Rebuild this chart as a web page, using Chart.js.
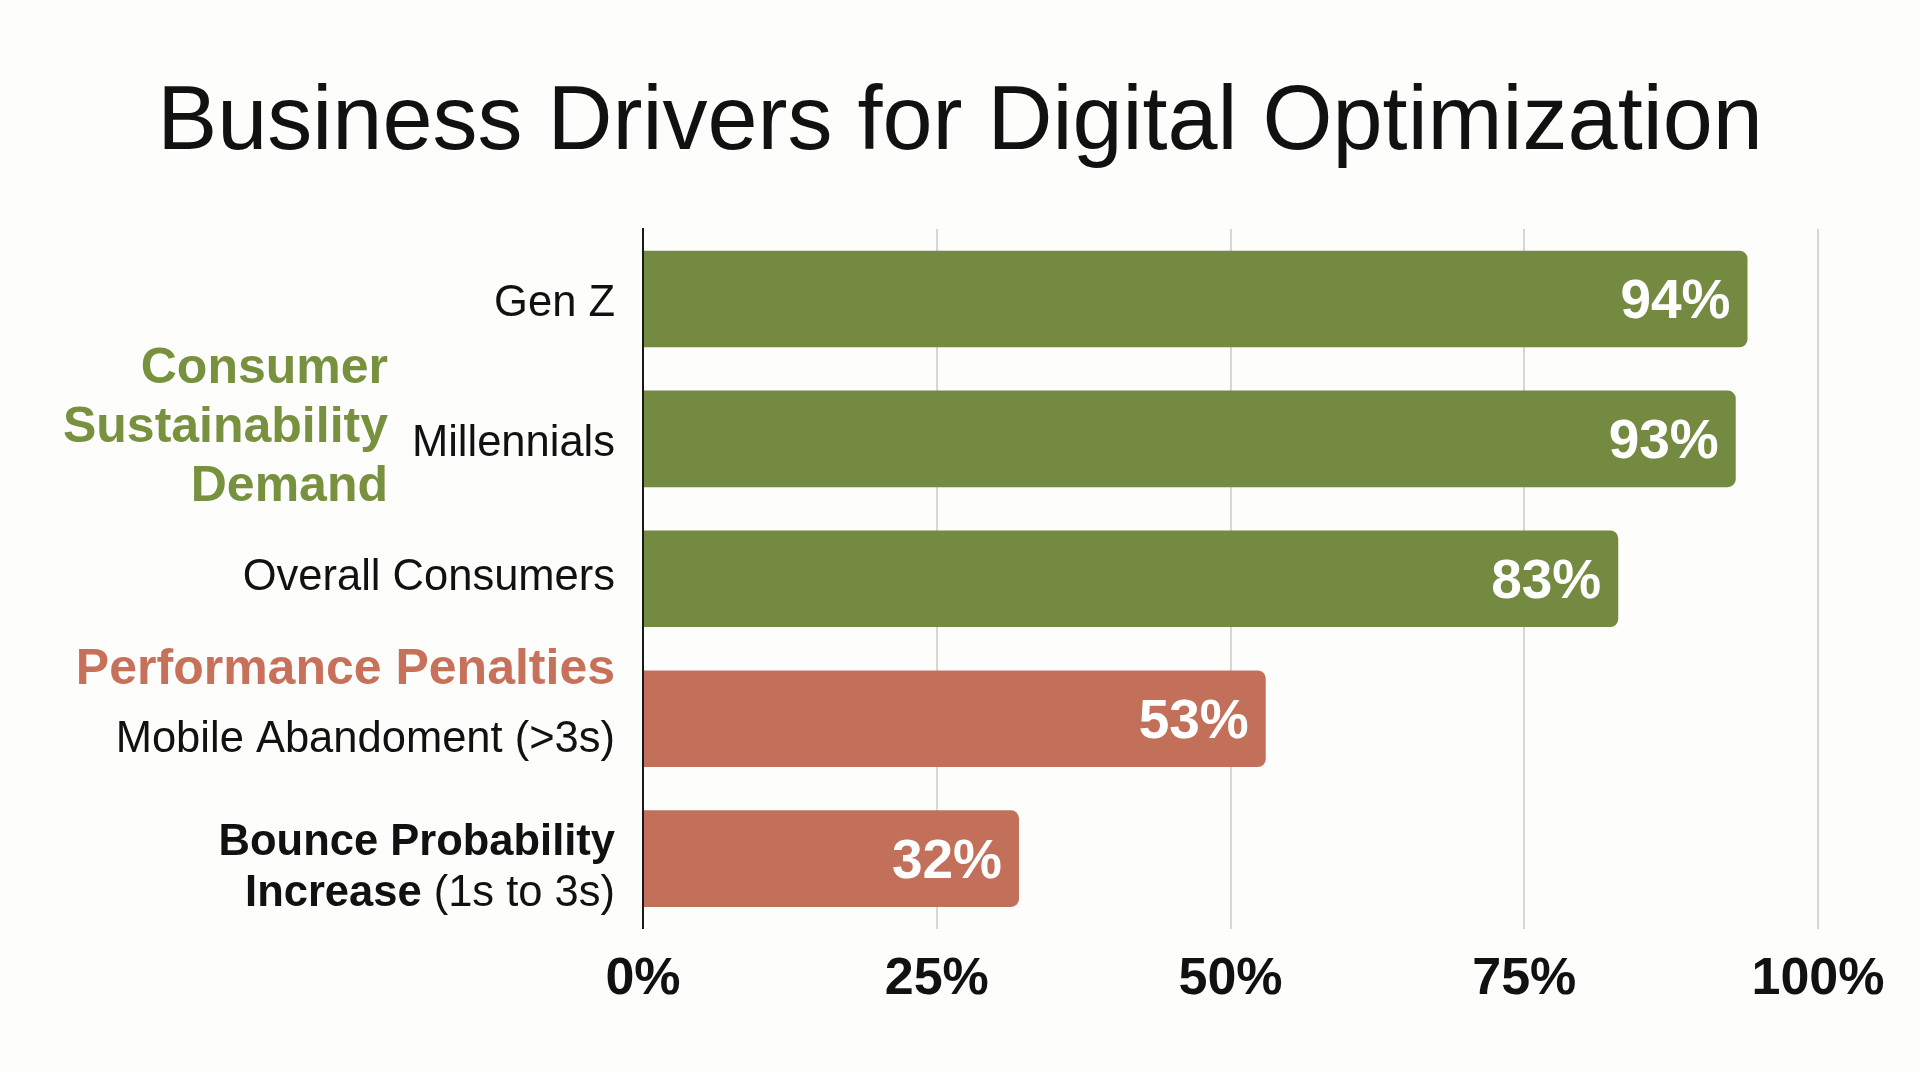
<!DOCTYPE html>
<html>
<head>
<meta charset="utf-8">
<script src="https://cdn.jsdelivr.net/npm/chart.js@4.4.1/dist/chart.umd.min.js"></script>
<style>
  html, body { margin: 0; padding: 0; background: #fdfdfc; }
</style>
</head>
<body>
<canvas id="chart" width="1920" height="1072"></canvas>
<script>
// data
const title = 'Business Drivers for Digital Optimization';
const categories = ['Gen Z', 'Millennials', 'Overall Consumers', 'Mobile Abandoment (>3s)', 'Bounce Probability Increase (1s to 3s)'];
const values = [94, 93, 83, 53, 32];
const groups = ['Consumer Sustainability Demand', 'Consumer Sustainability Demand', 'Consumer Sustainability Demand', 'Performance Penalties', 'Performance Penalties'];
const xTicks = [0, 25, 50, 75, 100];

// how each category label is split into lines / bold parts
const labelLines = [
    [[['Gen Z', false]]],
    [[['Millennials', false]]],
    [[['Overall Consumers', false]]],
    [[['Mobile Abandoment (>3s)', false]]],
    [[['Bounce Probability', true]], [['Increase', true], [' (1s to 3s)', false]]]
];
const groupHeaders = [
    { lines: ['Consumer', 'Sustainability', 'Demand'], row: 1 },
    { lines: ['Performance Penalties'], row: 3 }
];

const GREEN = '#738a40';
const RED = '#c2705a';
const groupColors = {
    'Consumer Sustainability Demand': GREEN,
    'Performance Penalties': RED
};
const headerColors = { 1: '#78913f', 3: '#c8715a' };
const FONT = '"Liberation Sans", Arial, Helvetica, sans-serif';

const sideLabels = {
    id: 'sideLabels',
    afterDatasetsDraw(chart) {
        const { ctx, scales: { y } } = chart;
        const meta = chart.getDatasetMeta(0);
        ctx.save();
        ctx.textBaseline = 'middle';

        // title, centred on the whole canvas
        ctx.font = '90px ' + FONT;
        ctx.fillStyle = '#111111';
        ctx.textAlign = 'center';
        ctx.fillText(title, chart.width / 2, 124);

        // values inside the bars
        ctx.font = 'bold 55px ' + FONT;
        ctx.fillStyle = '#ffffff';
        ctx.textAlign = 'right';
        meta.data.forEach((bar, i) => {
            ctx.fillText(values[i] + '%', bar.x - 17, bar.y + 4);
        });

        // category labels, right aligned next to the axis
        const right = chart.chartArea.left - 28;
        const offsets = [[5], [5], [-1], [21], [-16, 35]];
        ctx.textAlign = 'left';
        ctx.fillStyle = '#111111';
        labelLines.forEach((lines, i) => {
            const cy = y.getPixelForValue(i);
            lines.forEach((segs, li) => {
                let total = 0;
                segs.forEach(([t, b]) => {
                    ctx.font = (b ? 'bold ' : '') + '43.5px ' + FONT;
                    total += ctx.measureText(t).width;
                });
                let x = right - total;
                segs.forEach(([t, b]) => {
                    ctx.font = (b ? 'bold ' : '') + '43.5px ' + FONT;
                    ctx.fillText(t, x, cy + offsets[i][li]);
                    x += ctx.measureText(t).width;
                });
            });
        });

        // group headers
        ctx.textAlign = 'right';
        ctx.font = 'bold 50px ' + FONT;
        groupHeaders.forEach(g => {
            const cy = y.getPixelForValue(g.row);
            ctx.fillStyle = headerColors[g.row];
            if (g.lines.length > 1) {
                g.lines.forEach((t, li) => {
                    ctx.fillText(t, 388, cy - 11 + (li - 1) * 59);
                });
            } else {
                ctx.fillText(g.lines[0], right, cy - 49);
            }
        });
        ctx.restore();
    }
};

new Chart(document.getElementById('chart'), {
    type: 'bar',
    data: {
        labels: categories,
        datasets: [{
            data: values,
            backgroundColor: groups.map(g => groupColors[g]),
            borderRadius: 8,
            borderSkipped: 'start',
            barPercentage: 0.69,
            categoryPercentage: 1
        }]
    },
    options: {
        indexAxis: 'y',
        responsive: false,
        animation: false,
        layout: { padding: { left: 0, right: 102, top: 229, bottom: 41 } },
        plugins: {
            legend: { display: false },
            tooltip: { enabled: false },
            title: { display: false }
        },
        scales: {
            x: {
                min: 0,
                max: 100,
                afterBuildTicks: (scale) => { scale.ticks = xTicks.map(v => ({ value: v })); },
                ticks: {
                    padding: 20,
                    color: '#111111',
                    font: { family: FONT, size: 52, weight: 'bold' },
                    callback: (v) => v + '%'
                },
                grid: {
                    color: (c) => c.index === 0 ? 'rgba(0,0,0,0)' : '#d6d6d6',
                    lineWidth: 2,
                    drawTicks: false
                },
                border: { display: false }
            },
            y: {
                afterFit: (scale) => { scale.width = 643; },
                ticks: { display: false },
                grid: { display: false },
                border: { display: true, color: '#1a1a1a', width: 2 }
            }
        }
    },
    plugins: [sideLabels]
});
</script>
</body>
</html>
